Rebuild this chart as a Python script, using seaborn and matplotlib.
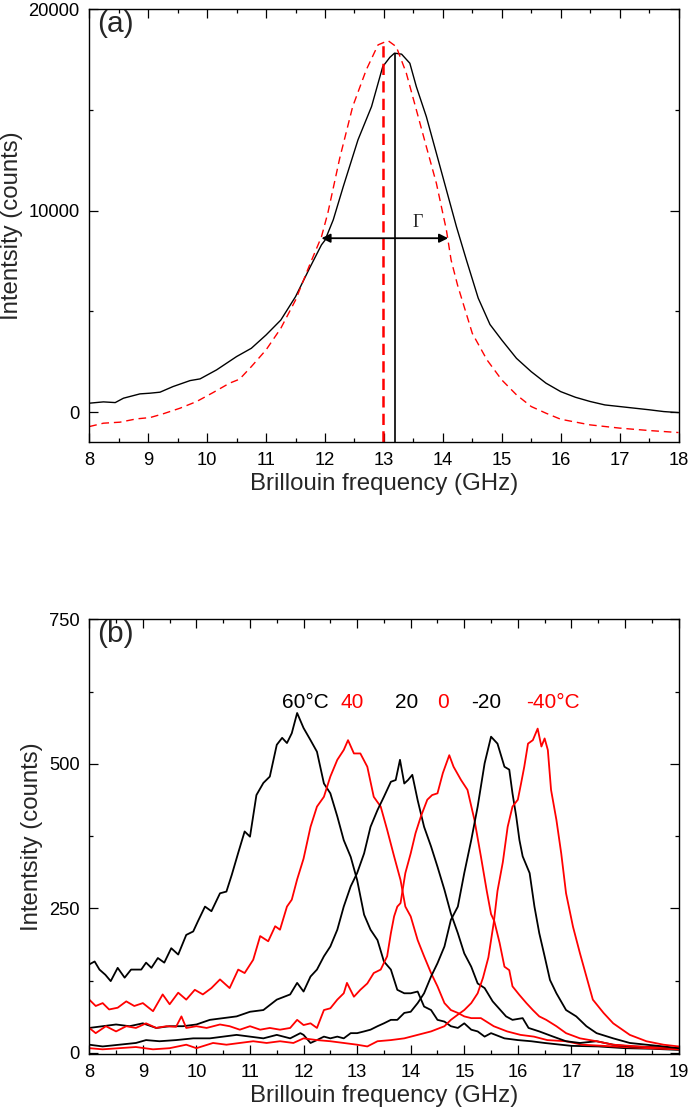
"""
Brillouin spectra: (a) single spectrum with fitted curve, (b) temperature series.
"""
import numpy as np
import pandas as pd
import matplotlib
matplotlib.use('Agg')
import matplotlib.pyplot as plt
import seaborn as sns
from matplotlib.ticker import MultipleLocator

# ---------------- panel (a) data ----------------
meas_freq = [8.0, 8.24, 8.44, 8.58, 8.86, 9.03, 9.2, 9.42, 9.71, 9.88, 10.16, 10.5,
             10.75, 11.0, 11.25, 11.5, 11.75, 11.94, 12.0, 12.14, 12.31, 12.56, 12.79,
             12.98, 13.1, 13.18, 13.3, 13.44, 13.55, 13.72, 13.89, 14.06, 14.23, 14.4,
             14.6, 14.8, 15.0, 15.25, 15.5, 15.75, 16.0, 16.25, 16.5, 16.75, 17.0,
             17.5, 17.75, 18.0]
meas_counts = [446, 511, 476, 694, 908, 942, 992, 1270, 1567, 1652, 2098, 2760,
               3170, 3830, 4570, 5730, 7210, 8300, 8530, 9540, 11190, 13510, 15160,
               17140, 17600, 17810, 17760, 17310, 16150, 14660, 12850, 11030, 9210, 7550,
               5660, 4350, 3580, 2670, 2010, 1440, 1020, 740, 530, 360, 280,
               120, 30, -20]

fit_freq = [8.0, 8.24, 8.52, 8.8, 9.03, 9.25, 9.54, 9.82, 10.1, 10.38, 10.55, 10.75,
            11.0, 11.25, 11.5, 11.75, 11.94, 12.05, 12.25, 12.47, 12.7, 12.9, 13.07,
            13.21, 13.38, 13.55, 13.72, 13.89, 14.06, 14.14, 14.25, 14.5, 14.75, 15.0,
            15.25, 15.5, 15.75, 16.0, 16.5, 17.0, 17.5, 18.0]
fit_counts = [-714, -546, -496, -332, -268, -84, 198, 526, 972, 1438, 1637, 2260,
              3090, 4160, 5560, 7380, 8700, 9900, 12600, 15160, 16980, 18220, 18430,
              18130, 16820, 15000, 13170, 11360, 9040, 7550, 6300, 3910, 2590, 1600,
              860, 280, -50, -350, -630, -790, -910, -1010]

# peak positions (fit, measured) and their heights
peak_freq = [12.98, 13.18]
peak_height = [18300, 17800]
# linewidth arrow
gamma_left, gamma_right, gamma_level = 11.94, 14.09, 8630

# ---------------- panel (b) data ----------------
f_60 = [8.0, 8.1, 8.19, 8.3, 8.4, 8.53, 8.66, 8.78, 8.97, 9.06, 9.16, 9.28, 9.4, 9.53,
        9.66, 9.81, 9.94, 10.03, 10.16, 10.28, 10.44, 10.56, 10.66, 10.78, 10.9, 11.0,
        11.12, 11.25, 11.37, 11.5, 11.6, 11.69, 11.78, 11.88, 12.0, 12.13, 12.25, 12.38,
        12.5, 12.63, 12.75, 12.88, 13.0, 13.13, 13.25, 13.38, 13.5, 13.63, 13.75, 13.88,
        14.0, 14.13, 14.25, 14.38, 14.5, 14.63, 14.75, 14.88, 15.0, 15.13, 15.25, 15.38,
        15.5, 15.75, 16.0, 16.25, 16.5, 17.0, 17.5, 18.0, 18.5, 19.0]
c_60 = [153, 158, 144, 135, 124, 147, 130, 144, 144, 156, 147, 164, 156, 181,
        170, 204, 210, 228, 253, 245, 276, 279, 308, 346, 383, 374,
        446, 467, 478, 533, 545, 536, 553, 588, 562, 541, 521, 466,
        449, 409, 368, 339, 299, 239, 213, 195, 158, 144, 109, 103,
        103, 106, 80, 74, 57, 54, 46, 43, 51, 40, 37, 28,
        34, 25, 22, 20, 17, 12, 11, 8, 7, 5]

f_40 = [8.0, 8.12, 8.25, 8.37, 8.53, 8.69, 8.84, 9.0, 9.19, 9.37, 9.5, 9.66, 9.81,
        9.97, 10.12, 10.28, 10.44, 10.62, 10.78, 10.9, 11.06, 11.19, 11.34, 11.47,
        11.56, 11.69, 11.78, 11.88, 12.0, 12.13, 12.25, 12.38, 12.5, 12.63, 12.75,
        12.83, 12.94, 13.06, 13.19, 13.31, 13.44, 13.56, 13.69, 13.81, 13.9, 14.0,
        14.13, 14.25, 14.38, 14.5, 14.63, 14.75, 14.88, 15.0, 15.13, 15.31, 15.55,
        15.8, 16.05, 16.3, 16.55, 16.9, 17.2, 17.8, 18.4, 19.0]
c_40 = [92, 81, 86, 75, 78, 89, 81, 86, 72, 101, 84, 104, 92,
        109, 101, 112, 127, 112, 144, 138, 161, 202, 193, 219,
        213, 253, 265, 300, 336, 391, 426, 443, 478, 507, 524,
        541, 518, 518, 495, 443, 426, 386, 340, 299, 253, 236,
        195, 167, 138, 115, 86, 74, 69, 63, 60, 60, 46,
        37, 31, 28, 22, 20, 14, 11, 8, 6]

f_20 = [8.0, 8.25, 8.5, 8.75, 9.0, 9.25, 9.5, 9.75, 10.0, 10.25, 10.5, 10.75, 11.0,
        11.25, 11.5, 11.75, 11.88, 12.0, 12.13, 12.25, 12.38, 12.5, 12.63, 12.75,
        12.88, 13.0, 13.13, 13.25, 13.38, 13.5, 13.63, 13.72, 13.8, 13.88, 13.95,
        14.03, 14.13, 14.25, 14.38, 14.5, 14.63, 14.75, 14.88, 15.0, 15.13, 15.25,
        15.38, 15.53, 15.78, 15.9, 16.09, 16.2, 16.4, 16.66, 16.9, 17.16, 17.47,
        17.78, 18.1, 18.5, 19.0]
c_20 = [43, 46, 49, 46, 51, 43, 46, 46, 49, 57, 60, 63, 71,
        74, 92, 101, 121, 106, 132, 144, 167, 184, 213, 253,
        288, 311, 345, 391, 420, 443, 469, 472, 507, 466, 472,
        481, 437, 391, 357, 322, 282, 241, 207, 172, 149, 120,
        112, 89, 63, 57, 60, 43, 37, 28, 20, 17, 20,
        14, 11, 10, 8]

f_0 = [8.0, 8.12, 8.31, 8.5, 8.69, 8.87, 9.06, 9.25, 9.44, 9.62, 9.72, 9.81, 10.0,
       10.19, 10.44, 10.62, 10.81, 11.0, 11.19, 11.37, 11.56, 11.75, 11.88, 12.0,
       12.13, 12.25, 12.38, 12.5, 12.63, 12.75, 12.81, 12.94, 13.06, 13.19, 13.31,
       13.44, 13.56, 13.63, 13.69, 13.75, 13.81, 13.9, 14.0, 14.09, 14.19, 14.31,
       14.4, 14.5, 14.6, 14.72, 14.8, 14.94, 15.06, 15.19, 15.31, 15.42, 15.5,
       15.56, 15.66, 15.75, 15.84, 15.9, 16.03, 16.16, 16.28, 16.4, 16.53, 16.72,
       16.9, 17.16, 17.47, 17.78, 18.4, 19.0]
c_0 = [43, 34, 46, 37, 46, 43, 51, 43, 46, 45, 63, 43, 46,
       43, 49, 46, 40, 46, 40, 43, 40, 43, 57, 48,
       51, 43, 74, 77, 92, 103, 121, 97, 109, 120, 138,
       144, 167, 207, 236, 253, 259, 311, 345, 380, 409, 438,
       446, 449, 484, 515, 495, 472, 455, 403, 340, 280, 240,
       228, 190, 149, 143, 115, 100, 86, 74, 63, 57, 46,
       34, 25, 20, 14, 10, 8]

f_m20 = [8.0, 8.25, 8.56, 8.87, 9.06, 9.31, 9.62, 9.94, 10.25, 10.5, 10.75, 11.0,
         11.25, 11.5, 11.75, 11.94, 12.0, 12.13, 12.25, 12.38, 12.5, 12.63, 12.75,
         12.88, 13.0, 13.13, 13.25, 13.38, 13.5, 13.63, 13.75, 13.88, 14.0, 14.13,
         14.25, 14.38, 14.5, 14.63, 14.75, 14.88, 15.0, 15.13, 15.25, 15.38, 15.5,
         15.62, 15.75, 15.84, 15.9, 15.97, 16.03, 16.09, 16.22, 16.31, 16.4, 16.5,
         16.6, 16.72, 16.9, 17.09, 17.28, 17.47, 17.78, 18.09, 18.4, 18.72, 19.0]
c_m20 = [14, 11, 14, 17, 22, 20, 22, 25, 25, 28, 31, 28,
         25, 31, 25, 34, 31, 17, 22, 28, 25, 28, 25,
         34, 34, 37, 40, 46, 51, 57, 57, 69, 71, 86,
         103, 132, 155, 184, 230, 253, 311, 368, 426, 501, 547,
         535, 495, 490, 449, 409, 368, 340, 311, 253, 207, 167,
         126, 103, 74, 63, 46, 34, 25, 17, 14, 11, 8]

f_m40 = [8.0, 8.25, 8.56, 8.87, 9.19, 9.5, 9.81, 10.0, 10.31, 10.56, 10.81, 11.06,
         11.31, 11.56, 11.81, 12.0, 12.25, 12.5, 12.75, 13.0, 13.19, 13.38, 13.63,
         13.88, 14.13, 14.38, 14.63, 14.75, 14.88, 15.0, 15.13, 15.25, 15.35, 15.45,
         15.55, 15.62, 15.72, 15.81, 15.9, 16.0, 16.06, 16.12, 16.19, 16.28, 16.37,
         16.44, 16.5, 16.56, 16.62, 16.72, 16.81, 16.9, 17.03, 17.16, 17.28, 17.4,
         17.6, 17.78, 18.09, 18.4, 18.72, 19.0]
c_m40 = [8, 6, 8, 10, 6, 8, 14, 8, 17, 14, 17, 20,
         17, 20, 17, 25, 22, 20, 17, 14, 11, 20, 22,
         25, 31, 37, 46, 57, 66, 74, 86, 103, 130, 165,
         225, 280, 330, 391, 426, 438, 466, 495, 535, 541, 561,
         530, 544, 524, 455, 403, 345, 276, 218, 172, 132, 92,
         69, 51, 31, 20, 14, 11]

temp_labels = ['60°C', '40', '20', '0', '-20', '-40°C']
label_freq = [12.03, 12.9, 13.92, 14.6, 15.4, 16.65]
label_level = 596

RED = '#ff0000'
series = [(f_60, c_60, 'black'), (f_40, c_40, RED), (f_20, c_20, 'black'),
          (f_0, c_0, RED), (f_m20, c_m20, 'black'), (f_m40, c_m40, RED)]

sns.set_theme(style='ticks')
plt.rcParams['font.family'] = ['Liberation Sans', 'DejaVu Sans']
plt.rcParams.update({
    'axes.linewidth': 1.0,
    'axes.edgecolor': 'black',
    'xtick.direction': 'in',
    'ytick.direction': 'in',
    'xtick.top': True,
    'ytick.right': True,
    'xtick.major.size': 6.5,
    'ytick.major.size': 6.5,
    'xtick.minor.size': 3,
    'ytick.minor.size': 3,
    'xtick.major.width': 0.9,
    'ytick.major.width': 0.9,
    'xtick.minor.width': 0.9,
    'ytick.minor.width': 0.9,
    'xtick.labelsize': 13.2,
    'ytick.labelsize': 13.2,
    'xtick.major.pad': 7,
    'ytick.major.pad': 7,
    'xtick.color': 'black',
    'ytick.color': 'black',
})

fig = plt.figure(figsize=(6.9, 11.12), dpi=100)
ax1 = fig.add_axes([0.1294, 0.6025, 0.854, 0.3894])
ax2 = fig.add_axes([0.1294, 0.0522, 0.854, 0.3908])

# ---- (a) ----
y_floor = -1480
sns.lineplot(x=meas_freq, y=meas_counts, ax=ax1, color='black', lw=1.0)
sns.lineplot(x=fit_freq, y=fit_counts, ax=ax1, color=RED, lw=1.0, dashes=False,
             linestyle=(0, (5.5, 3.5)))
ax1.vlines(peak_freq[0], y_floor, peak_height[0], color=RED, lw=1.8,
           linestyle=(0, (4.5, 2.5)))
ax1.vlines(peak_freq[1], y_floor, peak_height[1], color='black', lw=1.2)
ax1.annotate('', xy=(gamma_left, gamma_level), xytext=(gamma_right, gamma_level),
             arrowprops=dict(arrowstyle='<|-|>', color='black', lw=1.3,
                             mutation_scale=13, shrinkA=0, shrinkB=0))
ax1.text(13.57, 9200, 'Γ', family=['Liberation Serif', 'DejaVu Serif'],
         fontsize=13, ha='center', va='baseline')

ax1.set_xlim(8, 18)
ax1.set_ylim(y_floor, 20000)
ax1.xaxis.set_major_locator(MultipleLocator(1))
ax1.xaxis.set_minor_locator(MultipleLocator(0.5))
ax1.yaxis.set_major_locator(MultipleLocator(10000))
ax1.yaxis.set_minor_locator(MultipleLocator(5000))
ax1.text(0.014, 0.998, '(a)', transform=ax1.transAxes, fontsize=21.5,
         ha='left', va='top')

# ---- (b) ----
for freq, counts, col in series:
    sns.lineplot(x=freq, y=counts, ax=ax2, color=col, lw=1.3)
for lab, fx, col in zip(temp_labels, label_freq, ['black', RED] * 3):
    ax2.text(fx, label_level, lab, color=col, fontsize=15, ha='center', va='baseline')

ax2.set_xlim(8, 19)
ax2.set_ylim(-2, 750)
ax2.xaxis.set_major_locator(MultipleLocator(1))
ax2.xaxis.set_minor_locator(MultipleLocator(0.5))
ax2.yaxis.set_major_locator(MultipleLocator(250))
ax2.yaxis.set_minor_locator(MultipleLocator(125))
ax2.text(0.014, 0.998, '(b)', transform=ax2.transAxes, fontsize=21.5,
         ha='left', va='top')

for ax in (ax1, ax2):
    ax.set_xlabel('Brillouin frequency (GHz)', fontsize=17.3, labelpad=3)
    ax.set_ylabel('Intentsity (counts)', fontsize=17.3, labelpad=4)
    for s in ax.spines.values():
        s.set_visible(True)

fig.savefig('out.png', dpi=100)
plt.close(fig)
